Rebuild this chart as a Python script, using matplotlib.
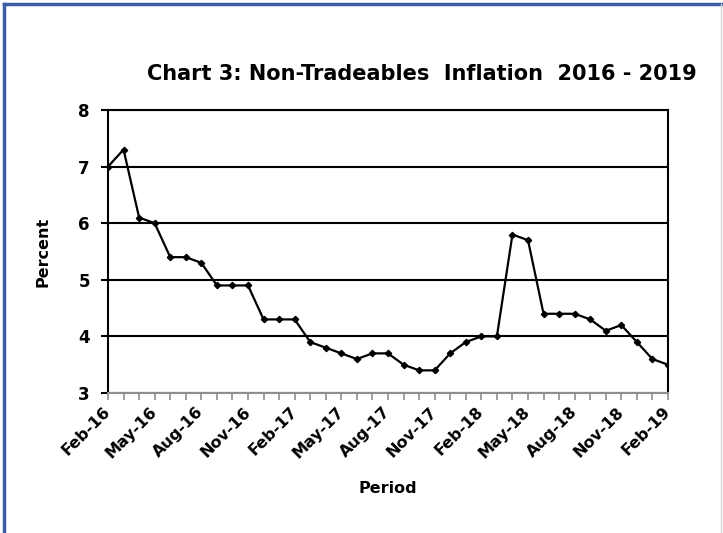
import matplotlib
matplotlib.use("Agg")
import matplotlib.pyplot as plt
from matplotlib.lines import Line2D

months = ["Feb-16", "Mar-16", "Apr-16", "May-16", "Jun-16", "Jul-16", "Aug-16", "Sep-16", "Oct-16",
          "Nov-16", "Dec-16", "Jan-17", "Feb-17", "Mar-17", "Apr-17", "May-17", "Jun-17", "Jul-17",
          "Aug-17", "Sep-17", "Oct-17", "Nov-17", "Dec-17", "Jan-18", "Feb-18", "Mar-18", "Apr-18",
          "May-18", "Jun-18", "Jul-18", "Aug-18", "Sep-18", "Oct-18", "Nov-18", "Dec-18", "Jan-19",
          "Feb-19"]
inflation = [7.0, 7.3, 6.1, 6.0, 5.4, 5.4, 5.3, 4.9, 4.9,
             4.9, 4.3, 4.3, 4.3, 3.9, 3.8, 3.7, 3.6, 3.7,
             3.7, 3.5, 3.4, 3.4, 3.7, 3.9, 4.0, 4.0, 5.8,
             5.7, 4.4, 4.4, 4.4, 4.3, 4.1, 4.2, 3.9, 3.6,
             3.5]
yticks = [3, 4, 5, 6, 7, 8]

plt.rcParams['font.family'] = ['DejaVu Sans']
plt.rcParams['font.weight'] = 'bold'

fig = plt.figure(figsize=(7.23, 5.33), dpi=100)
ax = fig.add_axes([108/723, 1 - 393/533, 560/723, 283/533])

x = list(range(len(months)))
ax.plot(x, inflation, color='black', lw=1.6, marker='D', ms=3.2, zorder=3)

ax.set_xlim(0, len(months) - 1)
ax.set_ylim(3, 8)
ax.set_yticks(yticks)
ax.set_yticklabels([str(v) for v in yticks], fontsize=12, fontweight='bold')
ax.yaxis.grid(True, color='black', lw=1.5)
ax.set_axisbelow(True)

ax.set_xticks(x, minor=True)
ax.set_xticks(x[::3])
ax.set_xticklabels(months[::3], rotation=45, ha='right', va='center',
                   rotation_mode='anchor', fontsize=11.5, fontweight='bold')
ax.tick_params(axis='x', which='both', direction='out', length=5, color='#909090', width=1.2, pad=7)
ax.tick_params(axis='y', direction='out', length=5, color='black', width=1.5, pad=8)

for s in ax.spines.values():
    s.set_color('black')
    s.set_linewidth(1.5)
ax.spines['bottom'].set_color('#909090')

ax.set_ylabel('Percent', fontsize=11.5, fontweight='bold', labelpad=20)
ax.set_xlabel('Period', fontsize=11.5, fontweight='bold', labelpad=14)

fig.text(422/723, 1 - 74/533, 'Chart 3: Non-Tradeables  Inflation  2016 - 2019',
         ha='center', va='center', fontsize=15, fontweight='bold')

# outer frame
fig.add_artist(Line2D([4/723, 4/723], [0, 1 - 4/533], transform=fig.transFigure, color='#3F5AA6', lw=2.5))
fig.add_artist(Line2D([4/723, 721/723], [1 - 4/533, 1 - 4/533], transform=fig.transFigure, color='#3F5AA6', lw=2.5))
fig.add_artist(Line2D([721/723, 721/723], [0, 1 - 4/533], transform=fig.transFigure, color='#D8D8D8', lw=1))

fig.savefig('out.png', dpi=100)
